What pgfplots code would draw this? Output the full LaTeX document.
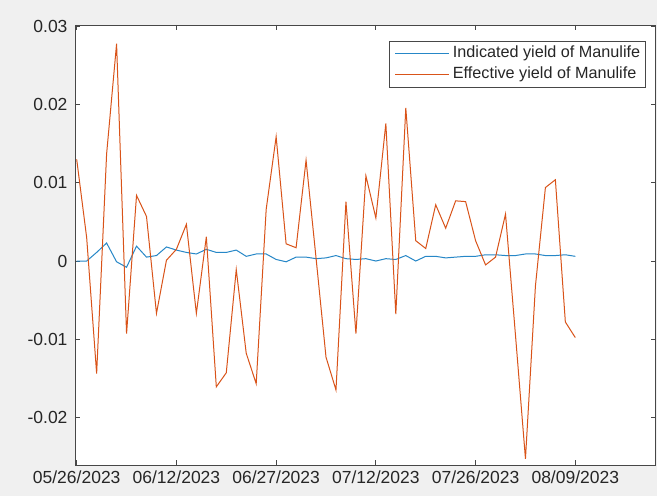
\documentclass[border=0pt]{standalone}
\usepackage{fontspec}
\setmainfont{Liberation Sans}
\usepackage{pgfplots}
\usepackage{pgfplotstable}
\pgfplotsset{compat=1.18}
\definecolor{mblue}{HTML}{0072BD}
\definecolor{morange}{HTML}{D95319}
\definecolor{figbg}{HTML}{F0F0F0}
\definecolor{axcol}{HTML}{262626}

\pgfplotstableread{
k ind eff
0 0.0000 0.0130
1 0.0000 0.0030
2 0.0011 -0.0144
3 0.0023 0.0137
4 -0.0001 0.0278
5 -0.0008 -0.0093
6 0.0019 0.0084
7 0.0005 0.0057
8 0.0007 -0.0067
9 0.0018 0.0001
10 0.0014 0.0015
11 0.0011 0.0047
12 0.0009 -0.0067
13 0.0015 0.0031
14 0.0011 -0.0161
15 0.0011 -0.0143
16 0.0014 -0.0011
17 0.0006 -0.0118
18 0.0009 -0.0157
19 0.0009 0.0066
20 0.0002 0.0159
21 -0.0001 0.0022
22 0.0005 0.0017
23 0.0005 0.0129
24 0.0003 0.0004
25 0.0004 -0.0123
26 0.0007 -0.0165
27 0.0003 0.0076
28 0.0002 -0.0093
29 0.0003 0.0109
30 0.0000 0.0055
31 0.0003 0.0176
32 0.0002 -0.0068
33 0.0007 0.0196
34 0.0000 0.0026
35 0.0006 0.0016
36 0.0006 0.0072
37 0.0004 0.0042
38 0.0005 0.0077
39 0.0006 0.0076
40 0.0006 0.0026
41 0.0008 -0.0005
42 0.0008 0.0005
43 0.0007 0.0060
44 0.0007 -0.0095
45 0.0009 -0.0253
46 0.0009 -0.0032
47 0.0007 0.0094
48 0.0007 0.0104
49 0.0008 -0.0078
50 0.0006 -0.0098
}\datatable

\begin{document}
\begin{tikzpicture}[x=1pt,y=1pt]
\useasboundingbox (0,0) rectangle (657,496);
\fill[figbg] (0,0) rectangle (657,496);
\begin{axis}[
  at={(75pt,31pt)}, anchor=south west,
  scale only axis, width=580.5pt, height=440pt,
  xmin=-0.17, xmax=58.04, ymin=-0.0261, ymax=0.0302,
  axis background/.style={fill=white},
  axis line style={draw=axcol!85, line width=0.8pt},
  xtick={0,10,20,30,40,50},
  xticklabels={05/26/2023,06/12/2023,06/27/2023,07/12/2023,07/26/2023,08/09/2023},
  ytick={-0.02,-0.01,0,0.01,0.02,0.03},
  scaled y ticks=false,
  yticklabel style={/pgf/number format/fixed,/pgf/number format/precision=2, xshift=-4pt},
  xticklabel style={yshift=-2pt},
  /pgf/number format/assume math mode=true,
  tick align=inside, major tick length=5pt,
  xtick pos=both, ytick pos=both,
  tick style={draw=axcol!85, line width=0.8pt},
  ticklabel style={font=\fontsize{17.5}{20}\selectfont, text=axcol},
  every axis plot/.append style={line width=1pt},
  legend image code/.code={\draw[#1] (0pt,0pt) -- (53.3pt,0pt);},
  legend style={at={(0.9836,0.9643)}, anchor=north east,
    draw=axcol!85, line width=0.7pt, fill=white, text=axcol,
    font=\fontsize{16.2}{19}\selectfont,
    inner xsep=5.4pt, inner ysep=4.85pt, row sep=5.2pt,
    nodes={inner sep=0pt, text height=12pt, text depth=3.5pt},
    /tikz/every odd column/.append style={column sep=3.7pt}},
  legend cell align=left,
]
\addplot[color=mblue!85!white, no markers] table[x=k, y=ind] {\datatable};
\addlegendentry{Indicated yield of Manulife}
\addplot[color=morange, no markers] table[x=k, y=eff] {\datatable};
\addlegendentry{Effective yield of Manulife}
\end{axis}
\end{tikzpicture}
\end{document}
